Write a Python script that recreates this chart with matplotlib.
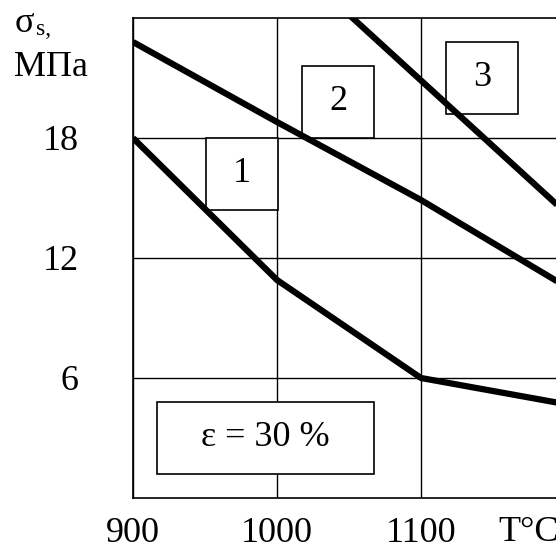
import matplotlib
matplotlib.use('Agg')
from matplotlib import pyplot
from matplotlib.patches import Rectangle

# Kurvendaten: Fliessspannung sigma_s [MPa] ueber Temperatur [°C]
temp_1 = [900, 1000, 1100, 1200]
sigma_1 = [18.0, 10.9, 6.0, 4.7]
temp_2 = [900, 1000, 1100, 1200]
sigma_2 = [22.8, 18.8, 14.9, 10.6]
temp_3 = [1051, 1200]
sigma_3 = [24.1, 14.3]

x_ticks = [900, 1000, 1100]
y_ticks = [6, 12, 18]

# Kaestchen mit Kurvennummern (links, unten, breite, hoehe) in Datenkoordinaten
box_labels = ['1', '2', '3']
box_pos = [(950.7, 14.4), (1017.4, 18.0), (1117.4, 19.2)]
box_size = (50.0, 3.6)
eps_text = 'ε = 30 %'
eps_box = (916.7, 1.2, 150.7, 3.6)

pyplot.rcParams['font.family'] = ['Liberation Serif', 'DejaVu Serif']
fsize = 26

W, H = 556, 546
fig = pyplot.figure(figsize=(W/100, H/100), dpi=100)
ax = fig.add_axes([133/W, 48/H, 432/W, 480/H])
#
ax.set_xlim(900, 1200)
ax.set_ylim(0, 24)
ax.set_xticks(x_ticks)
ax.set_yticks(y_ticks)
ax.tick_params(axis='both', length=0, labelsize=fsize)
ax.tick_params(axis='y', pad=39)
ax.tick_params(axis='x', pad=14)
for sp in ax.spines.values():
   sp.set_linewidth(1.2)
ax.set_axisbelow(True)
ax.grid(color='k', linewidth=1.0)
#
# Kaestchen
for lab, (bx, by) in zip(box_labels, box_pos):
   ax.add_patch(Rectangle((bx, by), box_size[0], box_size[1], facecolor='white',
                          edgecolor='k', linewidth=1.2, zorder=2))
   ax.text(bx + box_size[0]/2, by + box_size[1]/2, lab, fontsize=fsize,
           ha='center', va='center', zorder=2.5)
ax.add_patch(Rectangle((eps_box[0], eps_box[1]), eps_box[2], eps_box[3], facecolor='white',
                       edgecolor='k', linewidth=1.2, zorder=2))
ax.text(eps_box[0] + eps_box[2]/2, eps_box[1] + eps_box[3]/2, eps_text, fontsize=fsize,
        ha='center', va='center', zorder=2.5)
#
# Kurven
for tt, ss in [(temp_1, sigma_1), (temp_2, sigma_2), (temp_3, sigma_3)]:
   ax.plot(tt, ss, color='k', linewidth=4.5, solid_capstyle='butt', zorder=3)
#
# Achsenbeschriftungen
fig.text(15/W, 1 - 32/H, 'σ', fontsize=fsize, ha='left', va='baseline')
fig.text(36/W, 1 - 35/H, 's,', fontsize=17, ha='left', va='baseline')
fig.text(14/W, 1 - 76/H, 'МПа', fontsize=fsize, ha='left', va='baseline')
fig.text(498/W, 1 - 541/H, 'T°C', fontsize=fsize, ha='left', va='baseline')

fig.savefig('out.png', dpi=100)
